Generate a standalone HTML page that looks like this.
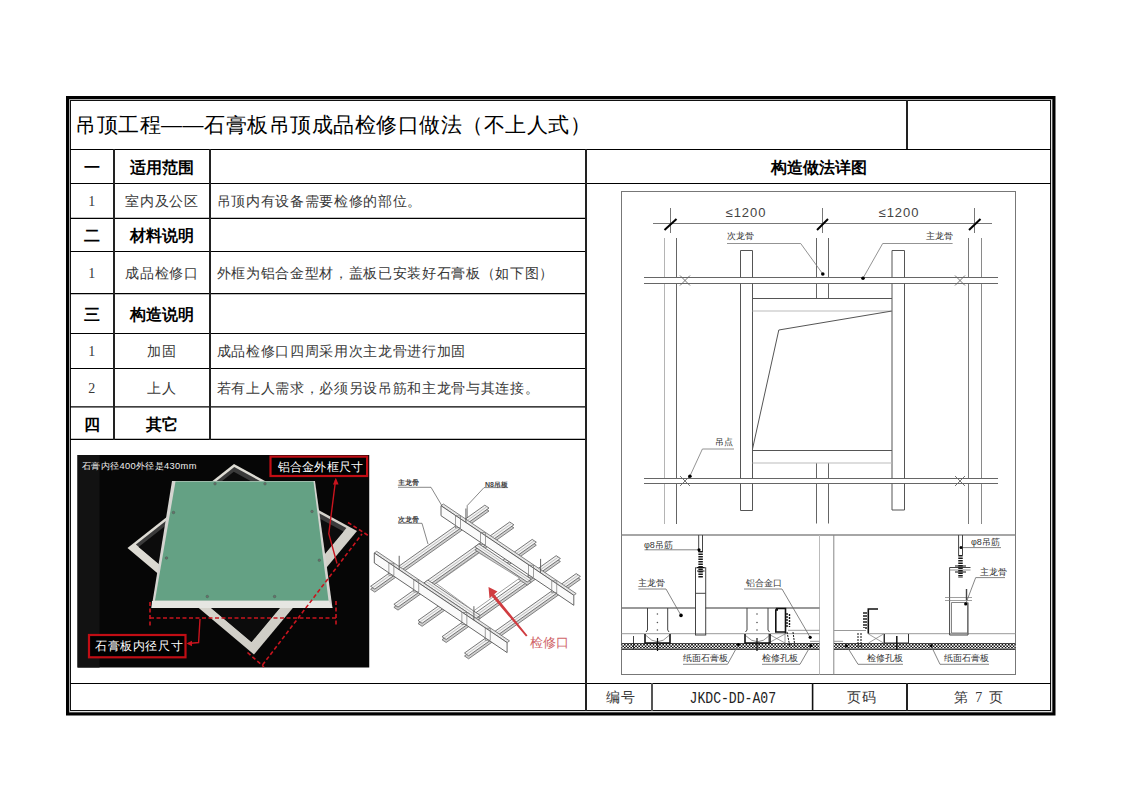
<!DOCTYPE html>
<html><head><meta charset="utf-8">
<style>
html,body{margin:0;padding:0;background:#fff;}
body{width:1122px;height:793px;position:relative;overflow:hidden;font-family:"Liberation Serif",serif;color:#111;}
.t{position:absolute;white-space:nowrap;line-height:1;}
.c{text-align:center;}
.b{font-family:"Liberation Sans",sans-serif;font-weight:bold;color:#000;}
.s{font-size:14px;letter-spacing:0.67px;color:#383838;}
svg{position:absolute;left:0;top:0;}
</style></head><body>
<svg width="1122" height="793" viewBox="0 0 1122 793">
<!-- outer double border -->
<rect x="69" y="99" width="983.5" height="613.5" fill="none" stroke="#999" stroke-width="1.6"/>
<rect x="67.5" y="97.5" width="986.5" height="616.5" fill="none" stroke="#000" stroke-width="3"/>
<rect x="70.5" y="100.5" width="980" height="610" fill="none" stroke="#111" stroke-width="1"/>
<!-- horizontal table lines -->
<g stroke="#000" stroke-width="1.2">
<line x1="70" y1="149.5" x2="1051" y2="149.5"/>
<line x1="70" y1="183.5" x2="1051" y2="183.5"/>
<line x1="70" y1="218.3" x2="586" y2="218.3"/>
<line x1="70" y1="251.5" x2="586" y2="251.5"/>
<line x1="70" y1="293.6" x2="586" y2="293.6"/>
<line x1="70" y1="333.5" x2="586" y2="333.5"/>
<line x1="70" y1="368.5" x2="586" y2="368.5"/>
<line x1="70" y1="406.8" x2="586" y2="406.8"/>
<line x1="70" y1="439.4" x2="586" y2="439.4"/>
<line x1="70" y1="683.5" x2="1051" y2="683.5"/>
</g>
<g stroke="#222" stroke-width="2">
<line x1="114" y1="149" x2="114" y2="440"/>
<line x1="210" y1="149" x2="210" y2="440"/>
<line x1="586" y1="149" x2="586" y2="711"/>
<line x1="652" y1="683" x2="652" y2="711" stroke="#555"/>
<line x1="812.6" y1="683" x2="812.6" y2="711" stroke="#111" stroke-width="1.6"/>
<line x1="907" y1="683" x2="907" y2="711"/>
<line x1="907" y1="100" x2="907" y2="149"/>
</g>
<!-- drawing frame -->
<g fill="none" stroke="#777" stroke-width="1">
<rect x="621.5" y="191.5" width="394" height="483"/>
<line x1="621.5" y1="535" x2="1015.5" y2="535" stroke="#888" stroke-width="1.3"/>
<line x1="819.5" y1="535" x2="819.5" y2="674.5" stroke="#bbb"/>
<line x1="833.8" y1="535" x2="833.8" y2="674.5" stroke="#888"/>
</g>
<!-- PLAN VIEW -->
<g fill="none" stroke="#666" stroke-width="1">
<!-- dimension line + extension lines -->
<line x1="653" y1="223.5" x2="992" y2="223.5" stroke="#777"/>
<line x1="670.5" y1="208" x2="670.5" y2="233" stroke="#777"/>
<line x1="822.5" y1="208" x2="822.5" y2="233" stroke="#777"/>
<line x1="974.5" y1="208" x2="974.5" y2="233" stroke="#777"/>
<!-- main keels vertical pairs -->
<g stroke="#b4b4b4">
<line x1="664.5" y1="238" x2="664.5" y2="277.5"/><line x1="664.5" y1="283.5" x2="664.5" y2="478.5"/><line x1="664.5" y1="483.5" x2="664.5" y2="524"/>

</g>
<g stroke="#656565">
<line x1="676.5" y1="238" x2="676.5" y2="277.5"/><line x1="676.5" y1="283.5" x2="676.5" y2="478.5"/><line x1="676.5" y1="483.5" x2="676.5" y2="524"/>

<line x1="816.5" y1="238" x2="816.5" y2="277.5"/><line x1="816.5" y1="283.5" x2="816.5" y2="298"/><line x1="816.5" y1="463" x2="816.5" y2="478.5"/><line x1="816.5" y1="483.5" x2="816.5" y2="523.5"/>
<line x1="828.5" y1="238" x2="828.5" y2="277.5"/><line x1="828.5" y1="283.5" x2="828.5" y2="298"/><line x1="828.5" y1="463" x2="828.5" y2="478.5"/><line x1="828.5" y1="483.5" x2="828.5" y2="523.5"/>
</g>
<g stroke="#7a7a7a"><line x1="968.5" y1="238" x2="968.5" y2="277.5"/><line x1="968.5" y1="283.5" x2="968.5" y2="478.5"/><line x1="968.5" y1="483.5" x2="968.5" y2="524"/></g>
<g stroke="#8a8a8a"><line x1="981.5" y1="238" x2="981.5" y2="277.5"/><line x1="981.5" y1="283.5" x2="981.5" y2="478.5"/><line x1="981.5" y1="483.5" x2="981.5" y2="524"/></g>
<!-- main bars horizontal -->
<g stroke="#666">
<line x1="644" y1="277.5" x2="998" y2="277.5"/><line x1="644" y1="283.5" x2="998" y2="283.5"/>
<line x1="644" y1="478.5" x2="998" y2="478.5"/><line x1="644" y1="483.5" x2="998" y2="483.5"/>
</g>
<!-- secondary rects -->
<g stroke="#555">
<polyline points="740.5,277.5 740.5,250.5 752.5,250.5 752.5,277.5"/>
<line x1="740.5" y1="283.5" x2="740.5" y2="478.5"/><line x1="752.5" y1="283.5" x2="752.5" y2="478.5"/>
<polyline points="740.5,483.5 740.5,510.5 752.5,510.5 752.5,483.5"/>
<polyline points="892,277.5 892,250.5 904.5,250.5 904.5,277.5"/>
<line x1="892" y1="283.5" x2="892" y2="478.5"/><line x1="904.5" y1="283.5" x2="904.5" y2="478.5"/>
<polyline points="892,483.5 892,510 904.5,510 904.5,483.5"/>
<!-- frame bars -->
<line x1="752.5" y1="298.5" x2="892" y2="298.5"/>
<line x1="752.5" y1="450.5" x2="892" y2="450.5"/>
</g>
<g stroke="#bbb">
<line x1="752.5" y1="311" x2="892" y2="311"/>
<line x1="752.5" y1="463" x2="892" y2="463"/>
</g>
<!-- hatch door diagonal -->
<polyline points="892,311 778.8,330 752.5,449" stroke="#555"/>
<!-- X marks -->
<g stroke="#666" stroke-width="0.9">
<path d="M680,275.5 L690,285.5 M690,275.5 L680,285.5"/>
<path d="M955,275.5 L965,285.5 M965,275.5 L955,285.5"/>
<path d="M680,476 L690,486 M690,476 L680,486"/>
<path d="M955,476 L965,486 M965,476 L955,486"/>
</g>
<!-- leaders -->
<g stroke="#777" stroke-width="0.8">
<polyline points="727,243.5 800.7,243.5 822.8,274"/>
<polyline points="952.6,243.5 882.7,243.5 863,278.2"/>
<polyline points="734,449 702.4,449 689.9,476.2"/>
</g>
</g>
<!-- ticks -->
<g stroke="#000" stroke-width="2">
<line x1="664.5" y1="230" x2="676.5" y2="219"/>
<line x1="817" y1="230" x2="828" y2="219"/>
<line x1="969" y1="230" x2="980.5" y2="219"/>
</g>
<!-- PHOTO -->
<rect x="77.5" y="455" width="292" height="212.5" fill="#060606"/>
<rect x="77.5" y="455" width="22" height="212.5" fill="#121212"/>
<!-- diamond frame -->
<defs><linearGradient id="fr" x1="0" y1="0" x2="1" y2="1"><stop offset="0" stop-color="#e4e2da"/><stop offset="1" stop-color="#c9c7c0"/></linearGradient></defs>
<polygon points="234,464 357,531 254,654.5 127.5,548" fill="url(#fr)"/>
<polygon points="234.3,467.0 346.4,528.1 251.5,641.9 135.9,544.6" fill="#3a3a3a"/>
<polygon points="233.8,471.8 343.5,531.6 251.5,641.9 138.6,546.9" fill="#0c0c0c"/>
<!-- panel -->
<polygon points="172,481 315,481 332.5,608 151.5,608" fill="#d4d4d0"/>
<polygon points="152,601 329,601 332.5,608 151.5,608" fill="#e6e6e2"/>
<polygon points="175.5,481.5 313.5,481.5 328.5,600.5 155,600.5" fill="#64a184"/>
<g fill="#6d6d6d" stroke="#3a5a4a" stroke-width="0.4">
<circle cx="215" cy="483.8" r="1.3"/><circle cx="265" cy="483.8" r="1.3"/>
<circle cx="173.5" cy="512.5" r="1.3"/><circle cx="312" cy="511.5" r="1.3"/>
<circle cx="166.5" cy="558" r="1.3"/><circle cx="319.3" cy="560.2" r="1.3"/>
<circle cx="207.3" cy="596.5" r="1.3"/><circle cx="274.6" cy="596.5" r="1.3"/>
</g>
<!-- red dashed dimension lines -->
<g stroke="#c8141e" stroke-width="1.6" fill="none" stroke-dasharray="4 2.5">
<line x1="150" y1="618" x2="336" y2="618"/>
<line x1="150" y1="602" x2="150" y2="626"/>
<line x1="336" y1="601" x2="336" y2="625"/>
<line x1="262.5" y1="665" x2="362" y2="534"/>
<line x1="348" y1="522.5" x2="369" y2="536"/>
<line x1="247.5" y1="652.5" x2="264" y2="667"/>
</g>
<g stroke="#c8141e" stroke-width="1.4" fill="none">
<polyline points="335.6,480 328.8,533.6 337,563.5"/>
<polyline points="200,619 198.6,642.5 188.5,643.5"/>
</g>
<polygon points="335.8,477.8 333,484.5 338.6,484.5" fill="#c8141e"/>
<polygon points="186.5,643.6 192,640.8 192,646.2" fill="#c8141e"/>
<!-- label boxes -->
<rect x="270.5" y="456.6" width="96.6" height="19.4" fill="#000" stroke="#c00d14" stroke-width="2.2"/>
<rect x="89" y="635" width="96.5" height="22.3" fill="#000" stroke="#c00d14" stroke-width="2.2"/>
<!-- ISO SKETCH -->
<rect x="369.5" y="446" width="215" height="222" fill="#fff"/>
<polygon points="370.6,589.3 374.8,592.1 489.0,511.0 484.8,508.2" fill="#cfcfcf" stroke="#666" stroke-width="0.8"/>
<polygon points="370.6,586.3 374.8,589.1 489.0,508.0 484.8,505.2" fill="#f2f2f2" stroke="#555" stroke-width="0.8"/>
<line x1="372.7" y1="587.7" x2="486.9" y2="506.6" stroke="#aaa" stroke-width="0.7"/>
<polygon points="464.5,656.0 468.6,658.8 580.4,579.4 576.2,576.6" fill="#cfcfcf" stroke="#666" stroke-width="0.8"/>
<polygon points="464.5,653.0 468.6,655.8 580.4,576.4 576.2,573.6" fill="#f2f2f2" stroke="#555" stroke-width="0.8"/>
<line x1="466.5" y1="654.4" x2="578.3" y2="575.0" stroke="#aaa" stroke-width="0.7"/>
<polygon points="442.0,639.7 446.2,642.5 560.4,561.5 556.2,558.7" fill="#cfcfcf" stroke="#666" stroke-width="0.8"/>
<polygon points="442.0,636.7 446.2,639.5 560.4,558.5 556.2,555.7" fill="#f2f2f2" stroke="#555" stroke-width="0.8"/>
<line x1="444.1" y1="638.1" x2="558.3" y2="557.1" stroke="#aaa" stroke-width="0.7"/>
<polygon points="393.9,607.3 398.0,610.1 513.9,527.8 509.7,525.0" fill="#cfcfcf" stroke="#666" stroke-width="0.8"/>
<polygon points="393.9,604.3 398.0,607.1 513.9,524.8 509.7,522.0" fill="#f2f2f2" stroke="#555" stroke-width="0.8"/>
<line x1="396.0" y1="605.7" x2="511.8" y2="523.4" stroke="#aaa" stroke-width="0.7"/>
<polygon points="418.0,623.5 422.1,626.3 453.7,603.9 449.6,601.1" fill="#cfcfcf" stroke="#666" stroke-width="0.8"/>
<polygon points="418.0,620.5 422.1,623.3 453.7,600.9 449.6,598.1" fill="#f2f2f2" stroke="#555" stroke-width="0.8"/>
<line x1="420.0" y1="621.9" x2="451.6" y2="599.5" stroke="#aaa" stroke-width="0.7"/>
<polygon points="501.4,564.3 505.5,567.1 536.3,545.2 532.2,542.4" fill="#cfcfcf" stroke="#666" stroke-width="0.8"/>
<polygon points="501.4,561.3 505.5,564.1 536.3,542.2 532.2,539.4" fill="#f2f2f2" stroke="#555" stroke-width="0.8"/>
<line x1="503.5" y1="562.7" x2="534.2" y2="540.8" stroke="#aaa" stroke-width="0.7"/>
<polygon points="423.9,586.0 476.1,621.3 480.2,618.4 427.9,583.1" fill="#cfcfcf" stroke="#666" stroke-width="0.8"/>
<polygon points="423.9,583.0 476.1,618.3 480.2,615.4 427.9,580.1" fill="#f2f2f2" stroke="#555" stroke-width="0.8"/>
<line x1="425.9" y1="581.5" x2="478.2" y2="616.8" stroke="#aaa" stroke-width="0.7"/>
<polygon points="474.9,549.8 527.2,585.0 531.2,582.2 478.9,546.9" fill="#cfcfcf" stroke="#666" stroke-width="0.8"/>
<polygon points="474.9,546.8 527.2,582.0 531.2,579.2 478.9,543.9" fill="#f2f2f2" stroke="#555" stroke-width="0.8"/>
<line x1="476.9" y1="545.3" x2="529.2" y2="580.6" stroke="#aaa" stroke-width="0.7"/>
<polygon points="436.2,583.4 473.6,610.9 519.7,578.1 479.1,553.0" fill="#fff" stroke="#888" stroke-width="0.8"/>
<polygon points="374.3,553.0 507.1,642.6 509.5,640.9 376.7,551.3" fill="#e6e6e6" stroke="#666" stroke-width="0.8"/>
<polygon points="374.3,553.0 507.1,642.6 507.1,652.6 374.3,563.0" fill="#fafafa" stroke="#555" stroke-width="0.9"/>
<polygon points="441.0,505.7 573.8,595.3 576.2,593.6 443.4,504.0" fill="#e6e6e6" stroke="#666" stroke-width="0.8"/>
<polygon points="441.0,505.7 573.8,595.3 573.8,605.3 441.0,515.7" fill="#fafafa" stroke="#555" stroke-width="0.9"/>
<rect x="388.9" y="563.2" width="5" height="12" fill="none" stroke="#777" stroke-width="0.7"/>
<rect x="413.8" y="580.0" width="5" height="12" fill="none" stroke="#777" stroke-width="0.7"/>
<rect x="461.9" y="612.5" width="5" height="12" fill="none" stroke="#777" stroke-width="0.7"/>
<rect x="485.2" y="628.2" width="5" height="12" fill="none" stroke="#777" stroke-width="0.7"/>
<rect x="455.6" y="515.9" width="5" height="12" fill="none" stroke="#777" stroke-width="0.7"/>
<rect x="480.5" y="532.7" width="5" height="12" fill="none" stroke="#777" stroke-width="0.7"/>
<rect x="528.6" y="565.2" width="5" height="12" fill="none" stroke="#777" stroke-width="0.7"/>
<rect x="551.8" y="580.8" width="5" height="12" fill="none" stroke="#777" stroke-width="0.7"/>
<line x1="399.2" y1="569.8" x2="399.2" y2="555.8" stroke="#555" stroke-width="0.9"/>
<line x1="473.9" y1="620.2" x2="473.9" y2="606.2" stroke="#555" stroke-width="0.9"/>
<line x1="465.9" y1="522.5" x2="465.9" y2="508.5" stroke="#555" stroke-width="0.9"/>
<line x1="540.6" y1="572.9" x2="540.6" y2="558.9" stroke="#555" stroke-width="0.9"/>
<g stroke="#555" stroke-width="0.7" fill="none">
<polyline points="398,487.3 431,487.3 441.7,505.4"/>
<polyline points="398,523.3 422,523.3 428,544"/>
<polyline points="507.5,487.6 484,487.6 467.2,505.6 467.2,518"/>
</g>
<!-- red arrow -->
<polygon points="488.5,587 497.5,591.5 494.2,594.3 527.5,635.5 526,636.5 491.8,596.2 489.5,598.5" fill="#d03c40"/>
<!-- SECTION VIEWS -->
<defs>
<pattern id="hb" x="0" y="644" width="3.2" height="3" patternUnits="userSpaceOnUse">
<rect width="3.2" height="3" fill="#fff"/><rect width="1.6" height="1.5" fill="#111"/><rect x="1.6" y="1.5" width="1.6" height="1.5" fill="#111"/>
</pattern>
</defs>
<rect x="621.5" y="643.5" width="198" height="6" fill="url(#hb)"/>
<rect x="834" y="643.5" width="181.5" height="6" fill="url(#hb)"/>
<g fill="none" stroke="#222" stroke-width="0.8">
<line x1="621.5" y1="643.5" x2="819.5" y2="643.5"/><line x1="621.5" y1="649.5" x2="819.5" y2="649.5"/>
<line x1="834" y1="643.5" x2="1015.5" y2="643.5"/><line x1="834" y1="649.5" x2="1015.5" y2="649.5"/>
</g>
<g fill="none" stroke="#777" stroke-width="1.6">
<line x1="621.5" y1="608" x2="695.5" y2="608"/><line x1="705.5" y1="608" x2="819.5" y2="608"/>
</g>
<g fill="none" stroke="#999" stroke-width="1">
<line x1="621.5" y1="633.7" x2="819.5" y2="633.7"/>
<line x1="868" y1="633.7" x2="1015.5" y2="633.7"/>
<line x1="834" y1="630.5" x2="866" y2="630.5"/>
<line x1="834" y1="641.3" x2="843" y2="641.3"/>
<line x1="788" y1="630.3" x2="819.5" y2="630.3"/>
<line x1="810" y1="641.3" x2="819.5" y2="641.3"/>
</g>
<g fill="none" stroke="#444" stroke-width="1">
<!-- left section: C keels -->
<path d="M647.5,608 L647.5,630 L646,632 M667.7,608 L667.7,630 L669,632"/>
<path d="M747,608 L747,630 L745.5,632 M768,608 L768,630 L769.5,632"/>
<path d="M655,635 Q657.5,646 660,635" stroke="none"/>
<path d="M646,635.5 Q657.5,648 669,635.5" stroke="#666" stroke-width="0.7"/>
<path d="M745.5,635.5 Q757.5,648 769.5,635.5" stroke="#666" stroke-width="0.7"/>
<!-- hanger left -->
<line x1="698.7" y1="535" x2="698.7" y2="552"/><line x1="702.5" y1="535" x2="702.5" y2="552"/>
<rect x="695.5" y="567.8" width="10.2" height="67.2"/>
<line x1="695.5" y1="593.3" x2="705.7" y2="593.3"/>
<!-- X boxes -->
<path d="M768.5,634 L785,643 M785,634 L768.5,643 M768.5,634 V643 M785,634 V643" stroke="#777" stroke-width="0.7"/>
<path d="M868.5,634 L883.5,643 M883.5,634 L868.5,643 M883.5,634 V643" stroke="#777" stroke-width="0.7"/>
<!-- right hanger -->
<line x1="958.6" y1="535" x2="958.6" y2="555"/><line x1="962.5" y1="535" x2="962.5" y2="555"/>
<path d="M970.5,567.5 H949.6 V635 H968 V602.5"/>
<path d="M949.6,570 H970.5" stroke="#666" stroke-width="0.7"/>
<path d="M951.5,602.5 H967.5 V633 H951.5 Z" stroke="#666" stroke-width="0.8"/>
<path d="M945,597.5 H972 M945,600.5 H972" stroke="#777" stroke-width="0.7"/>
<line x1="966.5" y1="589" x2="966.5" y2="600" stroke-width="1.4"/>
<!-- right U profile -->
<path d="M884.5,634 V643 H908.5 V634" stroke="#333"/>
</g>
<g fill="none" stroke="#111" stroke-width="1.6">
<path d="M645,634 V643 H670 V634"/>
<path d="M745,634 V643 H770 V634"/>
<path d="M778,610 H775.8 V632 H785.5 M775.8,608.5 H785.5 V633.5"/>
<path d="M878,609 H868.3 V633.5"/>
</g>
<!-- threaded rods (zigzag) -->
<g stroke="#111" stroke-width="1.5" fill="none">
<line x1="700.6" y1="551" x2="700.6" y2="578" stroke-width="4.5" stroke="#1a1a1a" stroke-dasharray="1.6 0.9"/>
<path d="M697,567.5 H704.5 M697,571 H704.5" stroke-width="1.2"/>
<line x1="960.5" y1="555" x2="960.5" y2="578" stroke-width="4.5" stroke="#1a1a1a" stroke-dasharray="1.6 0.9"/>
<path d="M955,566 H966 M955,572 H966" stroke-width="1.2"/>
<path d="M787,613 V628 M789.5,614 V627" stroke-width="1.4" stroke-dasharray="2 1"/>
<path d="M787,632 L790,647 M793,632 L795,647" stroke-width="1" stroke-dasharray="2 1"/>
<path d="M866,612 V630 M864,612 V628" stroke-width="1.4" stroke-dasharray="2 1"/>
<path d="M858,633 V648 M861,633 V648" stroke-width="1" stroke-dasharray="2 1"/>
<line x1="657.5" y1="638" x2="657.5" y2="651" stroke-width="1.2"/>
<line x1="757" y1="638" x2="757" y2="651" stroke-width="1.2"/>
<line x1="896.8" y1="636" x2="896.8" y2="650" stroke-width="1.5"/>
<line x1="633.5" y1="636" x2="633.5" y2="649" stroke-width="0.8"/>
</g>
<g fill="#555">
<circle cx="657.4" cy="614" r="0.8"/><circle cx="657.4" cy="622.5" r="0.8"/><circle cx="657.4" cy="630" r="0.8"/>
<circle cx="757" cy="614" r="0.8"/><circle cx="757" cy="622.5" r="0.8"/><circle cx="757" cy="630" r="0.8"/>
</g>
<!-- section leaders -->
<g fill="none" stroke="#666" stroke-width="0.8">
<polyline points="644.5,549.8 699,549.8"/>
<polyline points="638.4,589 666,589 681,615.4"/>
<polyline points="744,589 782,589 810.2,637.3"/>
<polyline points="683,664.3 727.5,664.3 738.4,644.5"/>
<polyline points="800,664.3 762,664.3"/><polyline points="800,664.3 810.8,645.5"/>
<polyline points="961,547.6 1001,547.6"/>
<polyline points="1005,577.6 975.7,577.6 965.7,603.9"/>
<polyline points="903,664.3 858,664.3 846.5,645.8"/>
<polyline points="989,664.3 940,664.3 931.1,645.8"/>
</g>
<g fill="#000">
<circle cx="699" cy="549.8" r="1.6"/><circle cx="681" cy="615.4" r="1.8"/><circle cx="810.2" cy="637.3" r="1.6"/>
<circle cx="961" cy="547.6" r="1.5"/><circle cx="965.7" cy="603.9" r="1.6"/>
<circle cx="738.4" cy="644.5" r="1.5"/><circle cx="810.8" cy="645.5" r="1.5"/>
<circle cx="846.5" cy="645.8" r="1.5"/><circle cx="931.1" cy="645.8" r="1.5"/>
</g>
<g fill="#000">
<circle cx="822.8" cy="274" r="1.8"/>
<circle cx="863" cy="278.2" r="1.8"/>
<circle cx="689.9" cy="476.2" r="1.8"/>
</g>
</svg>
<div class="t" style="left:725.5px;top:206px;font-size:13px;letter-spacing:1px;font-family:'Liberation Sans',sans-serif;color:#444;">≤1200</div>
<div class="t" style="left:878.5px;top:206px;font-size:13px;letter-spacing:1px;font-family:'Liberation Sans',sans-serif;color:#444;">≤1200</div>
<div class="t" style="left:727px;top:232px;font-size:8.5px;font-family:'Liberation Sans',sans-serif;color:#333;">次龙骨</div>
<div class="t" style="left:926px;top:232px;font-size:8.5px;font-family:'Liberation Sans',sans-serif;color:#333;">主龙骨</div>
<div class="t" style="left:715px;top:437.5px;font-size:8.5px;font-family:'Liberation Sans',sans-serif;color:#333;">吊点</div>
<div class="t" style="left:644px;top:540.5px;font-size:9px;font-family:'Liberation Sans',sans-serif;color:#333;">φ8吊筋</div>
<div class="t" style="left:638px;top:578.5px;font-size:9px;font-family:'Liberation Sans',sans-serif;color:#333;">主龙骨</div>
<div class="t" style="left:746px;top:578.5px;font-size:9px;font-family:'Liberation Sans',sans-serif;color:#333;">铝合金口</div>
<div class="t" style="left:683px;top:653.5px;font-size:9px;font-family:'Liberation Sans',sans-serif;color:#333;">纸面石膏板</div>
<div class="t" style="left:762px;top:653.5px;font-size:9px;font-family:'Liberation Sans',sans-serif;color:#333;">检修孔板</div>
<div class="t" style="left:971px;top:537.5px;font-size:9px;font-family:'Liberation Sans',sans-serif;color:#333;">φ8吊筋</div>
<div class="t" style="left:980px;top:568px;font-size:9px;font-family:'Liberation Sans',sans-serif;color:#333;">主龙骨</div>
<div class="t" style="left:867px;top:654px;font-size:9px;font-family:'Liberation Sans',sans-serif;color:#333;">检修孔板</div>
<div class="t" style="left:944px;top:654px;font-size:9px;font-family:'Liberation Sans',sans-serif;color:#333;">纸面石膏板</div>

<!-- title -->
<div class="t" style="left:75px;top:114px;font-size:21px;letter-spacing:0.5px;font-family:'Liberation Sans',sans-serif;color:#000;">吊顶工程——石膏板吊顶成品检修口做法（不上人式）</div>
<!-- left table text -->
<div class="t b c" style="left:70px;width:44px;top:160.3px;font-size:16px;">一</div>
<div class="t b c" style="left:114px;width:96px;top:160.3px;font-size:16px;">适用范围</div>
<div class="t s c" style="left:70px;width:44px;top:194.5px;">1</div>
<div class="t s c" style="left:114px;width:96px;top:194.5px;">室内及公区</div>
<div class="t s" style="left:216.5px;top:194.5px;">吊顶内有设备需要检修的部位。</div>
<div class="t b c" style="left:70px;width:44px;top:228.1px;font-size:16px;">二</div>
<div class="t b c" style="left:114px;width:96px;top:228.1px;font-size:16px;">材料说明</div>
<div class="t s c" style="left:70px;width:44px;top:266.6px;">1</div>
<div class="t s c" style="left:114px;width:96px;top:266.6px;">成品检修口</div>
<div class="t s" style="left:216.5px;top:266.6px;">外框为铝合金型材，盖板已安装好石膏板（如下图）</div>
<div class="t b c" style="left:70px;width:44px;top:306.8px;font-size:16px;">三</div>
<div class="t b c" style="left:114px;width:96px;top:306.8px;font-size:16px;">构造说明</div>
<div class="t s c" style="left:70px;width:44px;top:344.7px;">1</div>
<div class="t s c" style="left:114px;width:96px;top:344.7px;">加固</div>
<div class="t s" style="left:216.5px;top:344.7px;">成品检修口四周采用次主龙骨进行加固</div>
<div class="t s c" style="left:70px;width:44px;top:381.5px;">2</div>
<div class="t s c" style="left:114px;width:96px;top:381.5px;">上人</div>
<div class="t s" style="left:216.5px;top:381.5px;">若有上人需求，必须另设吊筋和主龙骨与其连接。</div>
<div class="t b c" style="left:70px;width:44px;top:417.0px;font-size:16px;">四</div>
<div class="t b c" style="left:114px;width:96px;top:417.0px;font-size:16px;">其它</div>
<!-- right header -->
<div class="t b c" style="left:586px;width:465px;top:160.3px;font-size:16px;">构造做法详图</div>


<div class="t" style="left:82px;top:462px;font-size:9.3px;letter-spacing:0.35px;font-family:'Liberation Sans',sans-serif;color:#eee;">石膏内径400外径是430mm</div>
<div class="t" style="left:277.5px;top:461px;font-size:12.2px;letter-spacing:0.3px;font-family:'Liberation Sans',sans-serif;color:#fff;">铝合金外框尺寸</div>
<div class="t" style="left:95px;top:640px;font-size:12.4px;letter-spacing:0.6px;font-family:'Liberation Sans',sans-serif;color:#fff;">石膏板内径尺寸</div>
<div class="t" style="left:397.5px;top:479px;font-size:7px;font-family:'Liberation Sans',sans-serif;font-weight:bold;color:#444;">主龙骨</div>
<div class="t" style="left:397.5px;top:515.5px;font-size:7px;font-family:'Liberation Sans',sans-serif;font-weight:bold;color:#444;">次龙骨</div>
<div class="t" style="left:485px;top:481px;font-size:7px;font-family:'Liberation Sans',sans-serif;font-weight:bold;color:#444;">N8吊板</div>
<div class="t" style="left:529.5px;top:635.5px;font-size:13px;font-family:'Liberation Sans',sans-serif;color:#cf6468;">检修口</div>
<!-- bottom row -->
<div class="t s c" style="left:588px;width:66px;top:690.7px;">编号</div>
<div class="t c" style="left:652px;width:161px;top:690.5px;font-size:16px;font-family:'Liberation Mono',monospace;color:#222;"><span style="display:inline-block;transform:scaleX(0.82);">JKDC-DD-A07</span></div>
<div class="t s c" style="left:815px;width:94px;top:690.7px;">页码</div>
<div class="t s c" style="left:907px;width:144px;top:690.7px;word-spacing:2px;">第 7 页</div>
</body></html>
